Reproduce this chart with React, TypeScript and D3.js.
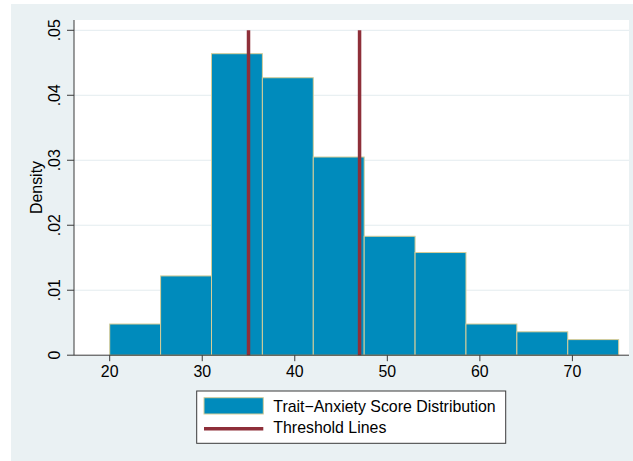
import React from "react";
import * as d3 from "d3";

const binEdges = [20, 25.5, 31, 36.5, 42, 47.5, 53, 58.5, 64, 69.5, 75];
const densities = [0.0048, 0.0122, 0.0464, 0.0427, 0.0305, 0.0183, 0.0158, 0.0048, 0.0036, 0.0024];
const thresholds = [35, 47];
const xTicks = [20, 30, 40, 50, 60, 70];
const yTicks = [0, 0.01, 0.02, 0.03, 0.04, 0.05];
const yTickLabels = ["0", ".01", ".02", ".03", ".04", ".05"];
const legendLabels = ["Trait\u2212Anxiety Score Distribution", "Threshold Lines"];

const W = 633;
const H = 461;
const FILL = "#008BBC";
const OUTLINE = "#D6CD98";
const LINE = "#8E2F39";
const BG = "#EAF1F3";
const GRID = "#E3ECEF";
const AXIS = "#3A3A3A";
const FONT = "'Liberation Sans', Arial, Helvetica, sans-serif";

export default function App() {
  const plotL = 74, plotR = 629, plotT = 20, plotB = 355.2;
  const x = d3.scaleLinear().domain([20, 70]).range([109.7, 572.4]);
  const y = d3.scaleLinear().domain([0, 0.05]).range([355.2, 30.3]);
  const fs = 15.9;

  return (
    <svg width={W} height={H} style={{ position: "absolute", left: 0, top: 0, background: "#fff" }}
      fontFamily={FONT}>
      <rect x={11} y={4} width={W - 11} height={H - 4} fill={BG} />
      <rect x={plotL} y={plotT} width={plotR - plotL} height={plotB - plotT} fill="#fff" />
      {yTicks.slice(1).map((t) => (
        <line key={t} x1={plotL} x2={plotR} y1={y(t)} y2={y(t)} stroke={GRID} strokeWidth={1} />
      ))}
      {densities.map((d, i) => (
        <rect key={i} x={x(binEdges[i])} y={y(d)} width={x(binEdges[i + 1]) - x(binEdges[i])}
          height={y(0) - y(d)} fill={FILL} stroke={OUTLINE} strokeWidth={1} />
      ))}
      {thresholds.map((t) => (
        <line key={t} x1={x(t)} x2={x(t)} y1={y(0)} y2={y(0.05)} stroke={LINE} strokeWidth={3.5} />
      ))}
      {/* axes */}
      <line x1={plotL} x2={plotL} y1={plotT} y2={plotB} stroke={AXIS} strokeWidth={1} />
      <line x1={plotL} x2={plotR} y1={plotB} y2={plotB} stroke={AXIS} strokeWidth={1} />
      {yTicks.map((t, i) => (
        <g key={t}>
          <line x1={plotL - 7} x2={plotL} y1={y(t)} y2={y(t)} stroke={AXIS} strokeWidth={1} />
          <text transform={`translate(60,${y(t)}) rotate(-90)`} textAnchor="middle" fontSize={fs} fill="#000">
            {yTickLabels[i]}
          </text>
        </g>
      ))}
      {xTicks.map((t) => (
        <g key={t}>
          <line x1={x(t)} x2={x(t)} y1={plotB} y2={plotB + 6} stroke={AXIS} strokeWidth={1} />
          <text x={x(t)} y={376.5} textAnchor="middle" fontSize={fs} fill="#000">{t}</text>
        </g>
      ))}
      <text transform={`translate(42,187.5) rotate(-90)`} textAnchor="middle" fontSize={fs} fill="#000">Density</text>
      {/* legend */}
      <rect x={196.7} y={391} width={309} height={52.3} fill="#fff" stroke={AXIS} strokeWidth={1} />
      <rect x={204} y={397.7} width={59.3} height={16.3} fill={FILL} stroke={OUTLINE} strokeWidth={1} />
      <line x1={204} x2={263.3} y1={428.7} y2={428.7} stroke={LINE} strokeWidth={3.5} />
      <text x={273.3} y={412} fontSize={fs} fill="#000">{legendLabels[0]}</text>
      <text x={273.3} y={433} fontSize={fs} fill="#000">{legendLabels[1]}</text>
    </svg>
  );
}
